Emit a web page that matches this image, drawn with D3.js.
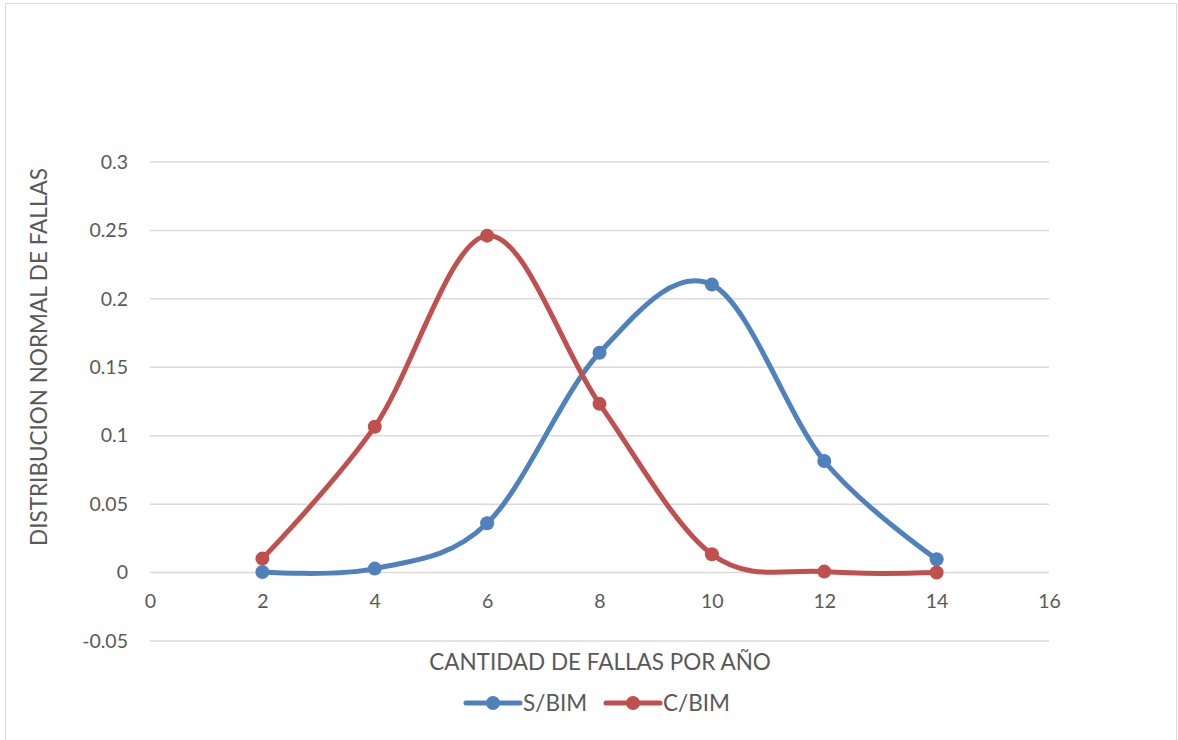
<!DOCTYPE html>
<html>
<head>
<meta charset="utf-8">
<script src="https://cdn.jsdelivr.net/npm/d3@7/dist/d3.min.js"></script>
<style>
  html, body { margin: 0; padding: 0; background: #fff; }
  svg text { font-family: Lato, "Open Sans", sans-serif; fill: #595959; }
</style>
</head>
<body>
<svg id="chart" width="1178" height="740"></svg>
<script>
// Failures per year (x) and normal distribution of failures for each series
const fallas = [2, 4, 6, 8, 10, 12, 14];
const sinBIM = [0.0004, 0.0029, 0.036, 0.1606, 0.2104, 0.0815, 0.0097];
const conBIM = [0.0102, 0.1066, 0.2462, 0.1233, 0.0134, 0.0007, 0.0];
const xTicks = [0, 2, 4, 6, 8, 10, 12, 14, 16];
const yTicks = [-0.05, 0, 0.05, 0.1, 0.15, 0.2, 0.25, 0.3];
const seriesNames = ["S/BIM", "C/BIM"];
const seriesColors = ["#4f81bd", "#c0504d"];

const svg = d3.select("#chart");
const W = 1178, H = 740;

// outer chart frame
svg.append("rect")
  .attr("x", 5.5).attr("y", 3.5)
  .attr("width", 1171).attr("height", 745)
  .attr("fill", "#fff").attr("stroke", "#d9d9d9").attr("stroke-width", 1);

const plot = { left: 150, right: 1049, top: 162, bottom: 641 };

const x = d3.scaleLinear().domain([0, 16]).range([plot.left, plot.right]);
const y = d3.scaleLinear().domain([-0.05, 0.3]).range([plot.bottom, plot.top]);

// horizontal gridlines
svg.append("g")
  .selectAll("line")
  .data(yTicks)
  .join("line")
  .attr("x1", plot.left).attr("x2", plot.right)
  .attr("y1", d => y(d)).attr("y2", d => y(d))
  .attr("stroke", "#d9d9d9").attr("stroke-width", 1.5);

// y axis tick labels
const yAxis = d3.axisLeft(y).tickValues(yTicks).tickSize(0).tickPadding(0)
  .tickFormat(d => String(+d.toFixed(2)));
const gy = svg.append("g").attr("transform", `translate(${plot.left - 22},0)`).call(yAxis);
gy.select(".domain").remove();
gy.selectAll("text").attr("font-size", 19.5).attr("font-family", null).attr("fill", null);

// x axis tick labels (sitting just under the zero line)
const xAxis = d3.axisBottom(x).tickValues(xTicks).tickSize(0).tickPadding(0);
const gx = svg.append("g").attr("transform", `translate(0,${y(0) + 22})`).call(xAxis);
gx.select(".domain").remove();
gx.selectAll("text").attr("font-size", 19.5).attr("font-family", null).attr("fill", null);

// axis titles
svg.append("text")
  .attr("x", 600).attr("y", 670)
  .attr("text-anchor", "middle").attr("font-size", 22.5)
  .text("CANTIDAD DE FALLAS POR AÑO");

svg.append("text")
  .attr("transform", "translate(47,357) rotate(-90)")
  .attr("text-anchor", "middle").attr("font-size", 22.5)
  .text("DISTRIBUCION NORMAL DE FALLAS");

// smoothed series lines with markers
const line = d3.line()
  .x(d => x(d[0])).y(d => y(d[1]))
  .curve(d3.curveCardinal.tension(0));

[sinBIM, conBIM].forEach((vals, i) => {
  const pts = fallas.map((f, j) => [f, vals[j]]);
  const g = svg.append("g");
  g.append("path")
    .datum(pts)
    .attr("d", line)
    .attr("fill", "none")
    .attr("stroke", seriesColors[i])
    .attr("stroke-width", 5)
    .attr("stroke-linecap", "round")
    .attr("stroke-linejoin", "round");
  g.selectAll("circle")
    .data(pts)
    .join("circle")
    .attr("cx", d => x(d[0])).attr("cy", d => y(d[1]))
    .attr("r", 7)
    .attr("fill", seriesColors[i]);
});

// legend
const legend = svg.append("g").attr("transform", "translate(0,703)");
const legendX = [466, 606];
seriesNames.forEach((name, i) => {
  const lx = legendX[i];
  legend.append("line")
    .attr("x1", lx).attr("x2", lx + 54)
    .attr("y1", 0).attr("y2", 0)
    .attr("stroke", seriesColors[i]).attr("stroke-width", 5)
    .attr("stroke-linecap", "round");
  legend.append("circle")
    .attr("cx", lx + 27).attr("cy", 0).attr("r", 7)
    .attr("fill", seriesColors[i]);
  legend.append("text")
    .attr("x", lx + 57).attr("y", 0)
    .attr("dy", "0.36em")
    .attr("font-size", 22.5)
    .text(name);
});
</script>
</body>
</html>
